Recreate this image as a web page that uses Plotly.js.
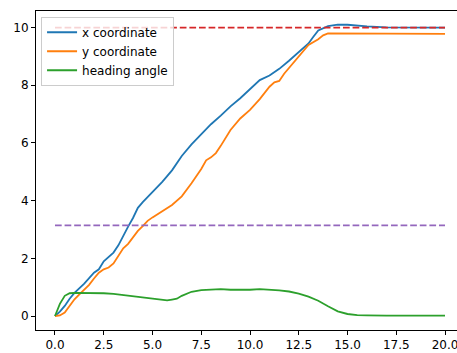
<!DOCTYPE html>
<html>
<head>
<meta charset="utf-8">
<script src="https://cdn.plot.ly/plotly-3.0.1.min.js"></script>
<style>html,body{margin:0;padding:0;background:#fff;}#chart{width:457px;height:353px;}</style>
</head>
<body>
<div id="chart"></div>
<script>
// time samples
var tX = [0,0.25,0.5,0.75,1.0,1.5,2.0,2.25,2.5,3.0,3.25,3.5,3.75,4.0,4.25,4.5,5.0,5.5,6.0,6.5,7.0,7.5,8.0,8.5,9.0,9.5,10.0,10.5,11.0,11.5,12.0,12.5,13.0,13.25,13.5,14.0,14.5,15.0,15.5,16.0,17.0,18.0,19.0,20.0];
var xCoord = [0,0.15,0.35,0.6,0.8,1.12,1.5,1.62,1.9,2.2,2.45,2.8,3.1,3.4,3.75,3.95,4.3,4.65,5.05,5.55,5.95,6.3,6.65,6.95,7.27,7.55,7.85,8.18,8.34,8.57,8.85,9.15,9.45,9.68,9.9,10.05,10.1,10.1,10.07,10.04,10.01,10.0,10.0,10.0];

var tY = [0,0.25,0.5,0.75,1.0,1.25,1.5,1.75,2.0,2.25,2.5,2.75,3.0,3.25,3.5,3.75,4.0,4.25,4.5,4.75,5.0,5.25,5.5,5.75,6.0,6.5,7.0,7.5,7.75,8.0,8.25,8.5,9.0,9.5,10.0,10.5,11.0,11.25,11.5,11.75,12.0,12.5,13.0,13.5,13.75,14.0,14.5,15.0,20.0];
var yCoord = [0,0.02,0.12,0.35,0.58,0.75,0.9,1.08,1.3,1.5,1.62,1.68,1.82,2.1,2.35,2.5,2.72,2.95,3.12,3.3,3.42,3.52,3.65,3.72,3.85,4.15,4.6,5.1,5.4,5.5,5.65,5.9,6.45,6.85,7.15,7.52,7.95,8.1,8.15,8.4,8.6,9.0,9.4,9.6,9.73,9.8,9.8,9.79,9.78];

var tH = [0,0.25,0.5,0.75,1.0,1.5,2.0,2.5,3.0,3.5,4.0,4.5,5.0,5.5,5.75,6.0,6.25,6.5,7.0,7.5,8.0,8.5,9.0,9.5,10.0,10.5,11.0,11.5,12.0,12.5,13.0,13.5,14.0,14.5,15.0,15.5,16.0,17.0,20.0];
var heading = [0,0.42,0.7,0.79,0.8,0.8,0.8,0.79,0.77,0.73,0.68,0.64,0.59,0.55,0.54,0.57,0.6,0.7,0.84,0.9,0.92,0.93,0.91,0.9,0.91,0.93,0.92,0.89,0.85,0.78,0.67,0.53,0.34,0.16,0.07,0.03,0.02,0.01,0.01];

// reference levels
var refT = [0, 20];
var targetLevel = [10, 10];
var piLevel = [Math.PI, Math.PI];

var xTicks = [0,2.5,5,7.5,10,12.5,15,17.5,20];
var xTickText = ["0.0","2.5","5.0","7.5","10.0","12.5","15.0","17.5","20.0"];
var yTicks = [0,2,4,6,8,10];
var yTickText = ["0","2","4","6","8","10"];

var lw = 1.8;
var traces = [
  {x: tX, y: xCoord, mode: 'lines', name: 'x coordinate', line: {color: '#1f77b4', width: lw}},
  {x: tY, y: yCoord, mode: 'lines', name: 'y coordinate', line: {color: '#ff7f0e', width: lw}},
  {x: tH, y: heading, mode: 'lines', name: 'heading angle', line: {color: '#2ca02c', width: lw}},
  {x: refT, y: targetLevel, mode: 'lines', showlegend: false, line: {color: '#d62728', width: lw, dash: '6.7px,2.9px'}},
  {x: refT, y: piLevel, mode: 'lines', showlegend: false, line: {color: '#9467bd', width: lw, dash: '6.7px,2.9px'}}
];

var layout = {
  width: 457, height: 353,
  margin: {l: 36, r: 0, t: 11, b: 23, pad: 0},
  paper_bgcolor: '#fff', plot_bgcolor: '#fff',
  font: {family: 'DejaVu Sans', size: 12, color: '#000'},
  showlegend: true,
  legend: {
    x: 0.012, y: 0.982, xanchor: 'left', yanchor: 'top',
    bgcolor: 'rgba(255,255,255,0.8)', bordercolor: '#cccccc', borderwidth: 1,
    font: {family: 'DejaVu Sans', size: 12, color: '#000'}
  },
  xaxis: {
    range: [-0.974, 20.615], tickvals: xTicks, ticktext: xTickText,
    showgrid: false, zeroline: false, showline: true, mirror: true,
    linecolor: '#000', linewidth: 1, ticks: 'outside', ticklen: 4, tickwidth: 1, tickcolor: '#000',
    ticklabeloverflow: 'allow',
    tickfont: {family: 'DejaVu Sans', size: 12, color: '#000'}
  },
  yaxis: {
    range: [-0.485, 10.576], tickvals: yTicks, ticktext: yTickText,
    showgrid: false, zeroline: false, showline: true, mirror: false,
    linecolor: '#000', linewidth: 1, ticks: 'outside', ticklen: 4, tickwidth: 1, tickcolor: '#000',
    tickfont: {family: 'DejaVu Sans', size: 12, color: '#000'}
  }
};

Plotly.newPlot('chart', traces, layout, {displayModeBar: false, staticPlot: true});
</script>
</body>
</html>
